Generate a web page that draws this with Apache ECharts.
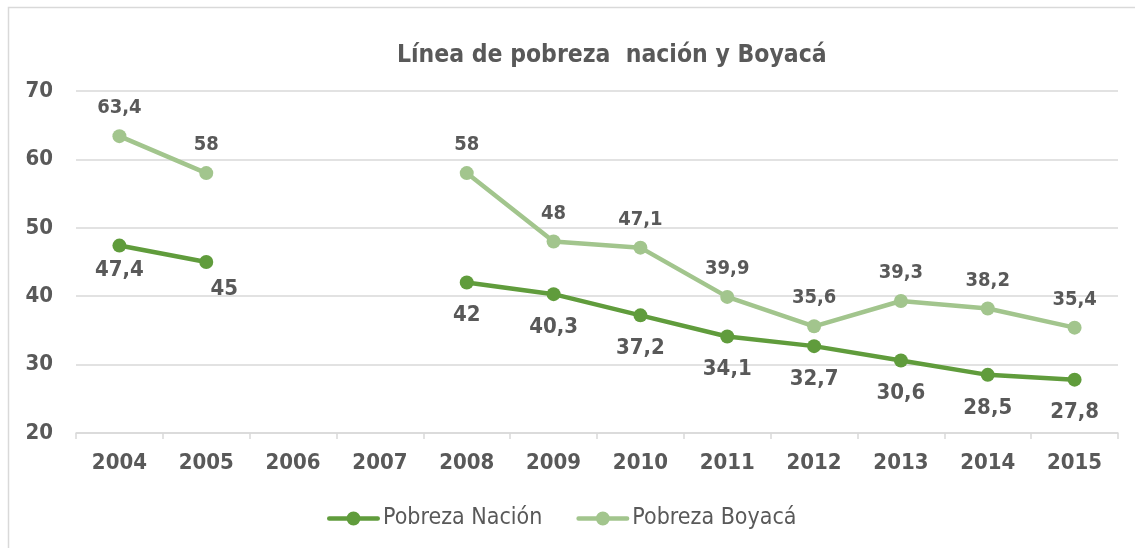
<!DOCTYPE html>
<html>
<head>
<meta charset="utf-8">
<script src="https://cdn.jsdelivr.net/npm/echarts@6/dist/echarts.min.js"></script>
<style>
html,body{margin:0;padding:0;background:#fff;}
#c{width:1135px;height:548px;}
</style>
</head>
<body>
<div id="c"></div>
<script>
const titleText = 'Línea de pobreza  nación y Boyacá';
const years = ['2004','2005','2006','2007','2008','2009','2010','2011','2012','2013','2014','2015'];
const pobrezaNacion = [47.4, 45, null, null, 42, 40.3, 37.2, 34.1, 32.7, 30.6, 28.5, 27.8];
const pobrezaBoyaca = [63.4, 58, null, null, 58, 48, 47.1, 39.9, 35.6, 39.3, 38.2, 35.4];
const seriesNames = ['Pobreza Nación', 'Pobreza Boyacá'];
const yTicks = { min: 20, max: 70, interval: 10 };

const FONT = '"DejaVu Sans Condensed", "DejaVu Sans", sans-serif';
const TXT = '#595959';
const C1 = '#609c3c';
const C2 = '#a2c58d';
const fmt = p => String(p.value).replace('.', ',');
// legend icon: thick line with a dot in the middle (53 x 14 box)
const ICON = 'path://M2,4.7 L20,4.7 L20,9.3 L2,9.3 A2.3,2.3 0 0,1 2,4.7 Z ' +
             'M33,4.7 L51,4.7 A2.3,2.3 0 0,1 51,9.3 L33,9.3 Z ' +
             'M19.5,7 A7,7 0 1,1 33.5,7 A7,7 0 1,1 19.5,7 Z';

const nacionData = pobrezaNacion.map((v, i) => {
  if (i === 0) return { value: v, label: { distance: 7 } };
  if (i === 1) return { value: v, label: { distance: 9, offset: [18, 0] } };
  return v;
});

const chart = echarts.init(document.getElementById('c'), null, { renderer: 'canvas' });
chart.setOption({
  backgroundColor: '#fff',
  animation: false,
  textStyle: { fontFamily: FONT },
  graphic: [{
    type: 'rect', z: -1,
    shape: { x: 8.5, y: 7.5, width: 1140, height: 560 },
    style: { fill: 'none', stroke: '#d9d9d9', lineWidth: 1.5 }
  }],
  title: {
    text: titleText,
    left: 392, top: 38,
    textStyle: { fontFamily: FONT, fontSize: 24.5, fontWeight: 'bold', color: TXT }
  },
  legend: {
    left: 322, top: 502,
    itemWidth: 53, itemHeight: 14, itemGap: 34,
    textStyle: { fontFamily: FONT, fontSize: 23, color: TXT, padding: [0, 0, 0, -2] },
    data: seriesNames.map(n => ({ name: n, icon: ICON }))
  },
  grid: { left: 76, right: 17, top: 91, bottom: 115, containLabel: false },
  xAxis: {
    type: 'category',
    data: years,
    boundaryGap: true,
    axisLine: { lineStyle: { color: '#d9d9d9', width: 1.5 } },
    axisTick: { show: true, length: 6, lineStyle: { color: '#d9d9d9', width: 1.5 } },
    axisLabel: { fontFamily: FONT, fontSize: 22, fontWeight: 'bold', color: TXT, margin: 19 },
    splitLine: { show: false }
  },
  yAxis: {
    type: 'value',
    min: yTicks.min, max: yTicks.max, interval: yTicks.interval,
    axisLine: { show: false },
    axisTick: { show: false },
    axisLabel: { fontFamily: FONT, fontSize: 22, fontWeight: 'bold', color: TXT, margin: 23 },
    splitLine: { lineStyle: { color: '#d9d9d9', width: 1.5 } }
  },
  series: [
    {
      name: seriesNames[0],
      type: 'line',
      data: nacionData,
      connectNulls: false,
      symbol: 'circle', symbolSize: 14,
      lineStyle: { color: C1, width: 4.5 },
      itemStyle: { color: C1 },
      label: {
        show: true, position: 'bottom', distance: 15,
        formatter: fmt,
        fontFamily: FONT, fontSize: 22, fontWeight: 'bold', color: TXT
      },
      z: 3
    },
    {
      name: seriesNames[1],
      type: 'line',
      data: pobrezaBoyaca,
      connectNulls: false,
      symbol: 'circle', symbolSize: 14,
      lineStyle: { color: C2, width: 4.5 },
      itemStyle: { color: C2 },
      label: {
        show: true, position: 'top', distance: 11,
        formatter: fmt,
        fontFamily: FONT, fontSize: 20, fontWeight: 'bold', color: TXT
      },
      z: 2
    }
  ]
});
</script>
</body>
</html>
